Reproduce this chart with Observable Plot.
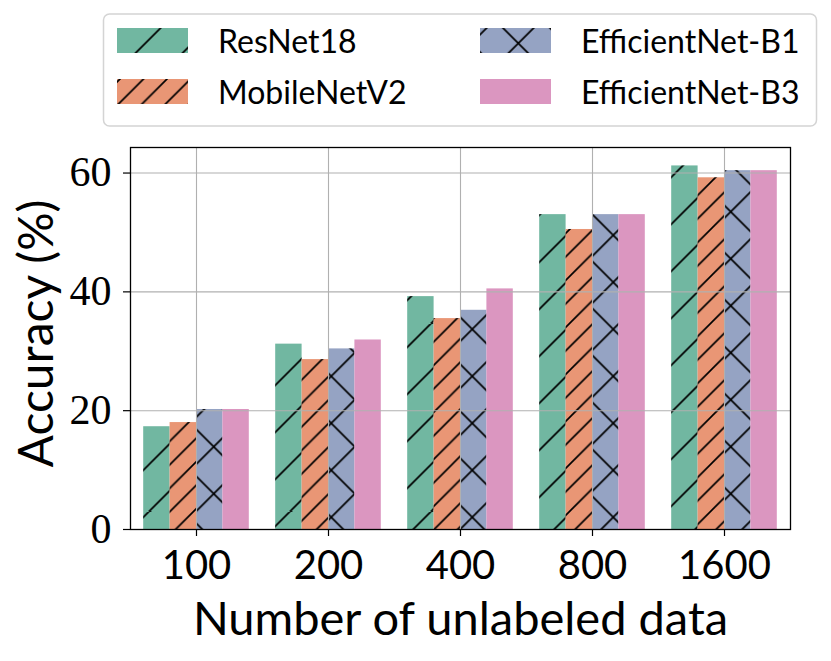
<!DOCTYPE html>
<html>
<head>
<meta charset="utf-8">
<script src="https://cdn.jsdelivr.net/npm/d3@7"></script>
<script src="https://cdn.jsdelivr.net/npm/@observablehq/plot@0.6"></script>
<style>
  body { margin: 0; background: white; }
  #wrap { width: 831px; position: relative; }
  #legend { display: block; }
</style>
</head>
<body>
<div id="wrap">
<svg id="legend" width="831" height="135" xmlns="http://www.w3.org/2000/svg">
  <defs>
    <pattern id="hs0" patternUnits="userSpaceOnUse" width="47" height="47" patternTransform="translate(8.5,0)">
      <path d="M-5,5L5,-5M0,47L47,0M42,52L52,42" stroke="black" stroke-width="1.7" fill="none"/>
    </pattern>
    <pattern id="hs1" patternUnits="userSpaceOnUse" width="23.5" height="23.5" patternTransform="translate(6,0)">
      <path d="M-3,3L3,-3M0,23.5L23.5,0M20.5,26.5L26.5,20.5" stroke="black" stroke-width="1.7" fill="none"/>
    </pattern>
    <pattern id="hs2" patternUnits="userSpaceOnUse" width="47" height="47" patternTransform="translate(2.25,6.25)">
      <path d="M-5,5L5,-5M0,47L47,0M42,52L52,42M0,0L47,47M42,-5L52,5M-5,42L5,52" stroke="black" stroke-width="1.7" fill="none"/>
    </pattern>
    <pattern id="ls0" patternUnits="userSpaceOnUse" width="47" height="47" patternTransform="translate(-3.4,0)">
      <path d="M-5,5L5,-5M0,47L47,0M42,52L52,42" stroke="black" stroke-width="1.7" fill="none"/>
    </pattern>
    <pattern id="ls1" patternUnits="userSpaceOnUse" width="23.5" height="23.5" patternTransform="translate(3,0)">
      <path d="M-3,3L3,-3M0,23.5L23.5,0M20.5,26.5L26.5,20.5" stroke="black" stroke-width="1.7" fill="none"/>
    </pattern>
    <pattern id="ls2" patternUnits="userSpaceOnUse" width="47" height="47" patternTransform="translate(14.8,-8.2)">
      <path d="M-5,5L5,-5M0,47L47,0M42,52L52,42M0,0L47,47M42,-5L52,5M-5,42L5,52" stroke="black" stroke-width="1.7" fill="none"/>
    </pattern>
  </defs>
  <g id="legend-items"></g>
</svg>
<div id="chart"></div>
</div>
<script>
// ---- data ----
const groups = ["100", "200", "400", "800", "1600"];
const models = ["ResNet18", "MobileNetV2", "EfficientNet-B1", "EfficientNet-B3"];
const resnet18 = [17.3, 31.2, 39.2, 53.0, 61.2];
const mobilenetV2 = [18.0, 28.6, 35.5, 50.5, 59.2];
const efficientB1 = [20.2, 30.4, 36.9, 53.0, 60.4];
const efficientB3 = [20.2, 31.9, 40.5, 53.0, 60.4];
const yTicks = [0, 20, 40, 60];
const colors = ["#71b7a1", "#e99675", "#95a3c3", "#db96c0"];
const hatchIds = ["hs0", "hs1", "hs2", null];
const legendHatchIds = ["ls0", "ls1", "ls2", null];

const series = [resnet18, mobilenetV2, efficientB1, efficientB3];
const rows = [];
series.forEach((vals, mi) => vals.forEach((v, gi) => rows.push({
  model: models[mi], mi, gi, group: groups[gi], value: v,
  x1: gi - 0.4 + mi * 0.2, x2: gi - 0.2 + mi * 0.2
})));

// ---- legend ----
const NS = "http://www.w3.org/2000/svg";
const lg = document.getElementById("legend-items");
function el(tag, attrs, parent) {
  const e = document.createElementNS(NS, tag);
  for (const k in attrs) e.setAttribute(k, attrs[k]);
  parent.appendChild(e);
  return e;
}
el("rect", {x: 103.5, y: 14, width: 713, height: 112, rx: 6, ry: 6, fill: "white", stroke: "#d4d4d4", "stroke-width": 1.5}, lg);
const legendPos = [[117, 28, 218, 53.3], [117, 79, 218, 103.5], [480, 28, 581, 53.3], [480, 79, 581, 103.5]];
models.forEach((m, i) => {
  const [px, py, tx, ty] = legendPos[i];
  el("rect", {x: px, y: py, width: 71, height: 25, fill: colors[i]}, lg);
  if (legendHatchIds[i]) {
    const g = el("g", {transform: `translate(${px},${py})`}, lg);
    el("rect", {x: 0, y: 0, width: 71, height: 25, fill: `url(#${legendHatchIds[i]})`}, g);
  }
  const t = el("text", {x: tx, y: ty, "font-family": "Lato, 'Noto Sans', sans-serif", "font-size": 32, fill: "black"}, lg);
  t.textContent = m;
});

// ---- chart ----
const sans = "Lato, 'Noto Sans', sans-serif";
const serif = "'Liberation Serif', 'DejaVu Serif', serif";
const marks = [];
models.forEach((m, mi) => {
  const d = rows.filter(r => r.mi === mi);
  marks.push(Plot.rectY(d, {x1: "x1", x2: "x2", y1: 0, y2: "value", fill: colors[mi]}));
  if (hatchIds[mi]) marks.push(Plot.rectY(d, {x1: "x1", x2: "x2", y1: 0, y2: "value", fill: `url(#${hatchIds[mi]})`}));
});
marks.push(
  Plot.gridX({ticks: [0, 1, 2, 3, 4], stroke: "#b0b0b0", strokeOpacity: 1, strokeWidth: 1.1}),
  Plot.gridY({ticks: yTicks, stroke: "#b0b0b0", strokeOpacity: 1, strokeWidth: 1.1}),
  Plot.frame({stroke: "black", strokeWidth: 1.3}),
  Plot.axisX({ticks: [0, 1, 2, 3, 4], tickFormat: i => groups[i], tickSize: 7, tickPadding: 14,
    fontSize: 40, fontFamily: sans, label: null, strokeWidth: 1.2}),
  Plot.axisY({ticks: yTicks, tickSize: 7, tickPadding: 12, fontSize: 42, fontFamily: serif, label: null, strokeWidth: 1.2}),
  Plot.text(["Accuracy (%)"], {text: d => d, frameAnchor: "left", rotate: -90, dx: -93, dy: -5,
    fontSize: 48, fontFamily: sans, textAnchor: "middle", lineAnchor: "middle", fill: "black"}),
  Plot.text(["Number of unlabeled data"], {text: d => d, frameAnchor: "bottom", dy: 90,
    fontSize: 47, fontFamily: sans, textAnchor: "middle", lineAnchor: "middle", fill: "black"})
);

const chart = Plot.plot({
  width: 831,
  height: 526,
  marginTop: 12,
  marginBottom: 132,
  marginLeft: 130,
  marginRight: 41,
  style: {background: "white", color: "black", overflow: "visible"},
  x: {type: "linear", domain: [-0.5, 4.5]},
  y: {domain: [0, 64.3]},
  marks
});
document.getElementById("chart").appendChild(chart);
</script>
</body>
</html>
